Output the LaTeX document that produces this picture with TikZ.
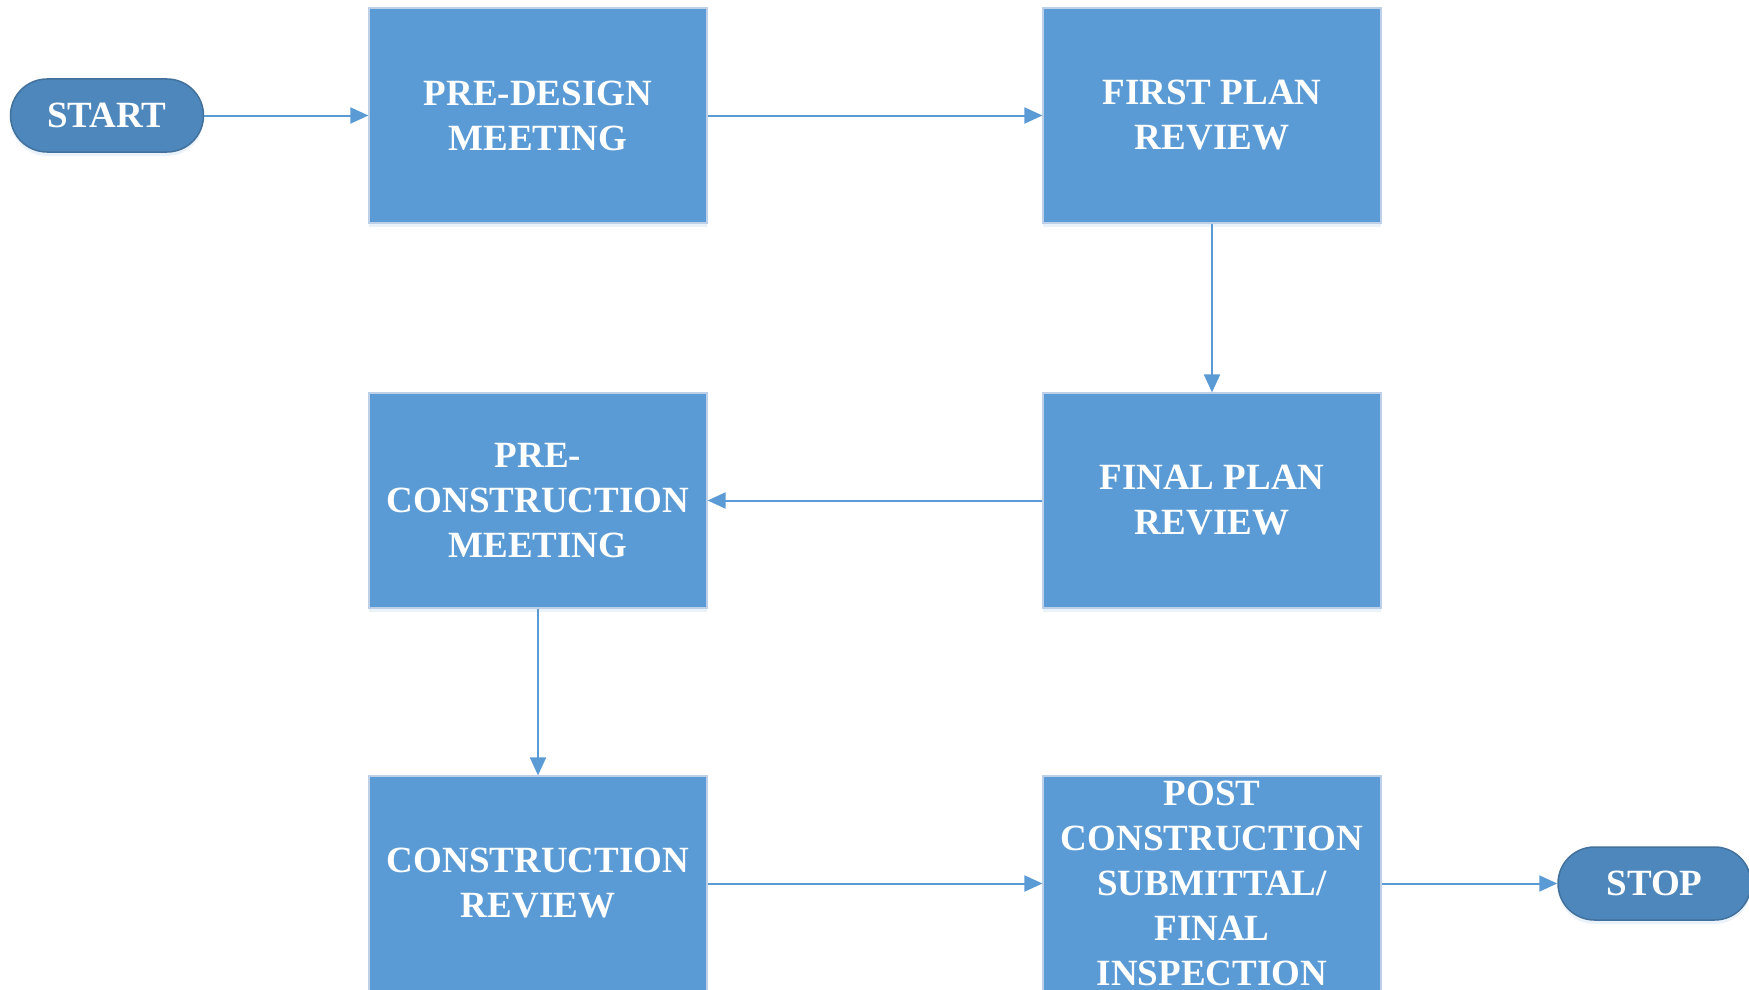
\documentclass[tikz,border=0pt]{standalone}
\usepackage{fontspec}
\setmainfont{Liberation Serif}
\usetikzlibrary{arrows.meta,shadows,shapes.misc}
\definecolor{boxblue}{HTML}{5B9BD5}
\definecolor{boxedge}{HTML}{BDD0E8}
\definecolor{termfill}{HTML}{4E87BB}
\definecolor{termedge}{HTML}{41719C}
\tikzset{
  stepbox/.style={rectangle, fill=boxblue, draw=boxedge, line width=1.2pt,
    minimum width=338pt, minimum height=215pt, inner sep=0pt,
    text=white, align=center, font=\fontsize{37}{45}\selectfont\bfseries,
    drop shadow={shadow xshift=0pt, shadow yshift=-4pt, opacity=0.12, fill=boxblue}},
  term/.style={rounded rectangle, fill=termfill, draw=termedge, line width=1.5pt,
    minimum width=193pt, minimum height=73pt, inner sep=0pt,
    text=white, font=\fontsize{37}{45}\selectfont\bfseries,
    drop shadow={shadow xshift=0pt, shadow yshift=-4pt, opacity=0.12, fill=boxblue}},
  conn/.style={draw=boxblue, line width=2pt, -{Triangle[length=18pt,width=16pt]}}
}
\begin{document}
\begin{tikzpicture}[x=1pt,y=-1pt]
\useasboundingbox (0,0) rectangle (1749,990);
\node[term] (start) at (107,115.5) {START};
\node[stepbox] (pd) at (538,115.5) {PRE-DESIGN\\MEETING};
\node[stepbox] (fpr) at (1212,115.5) {FIRST PLAN\\REVIEW};
\node[stepbox] (fin) at (1212,500.5) {FINAL PLAN\\REVIEW};
\node[stepbox] (pc) at (538,500.5) {PRE-\\CONSTRUCTION\\MEETING};
\node[stepbox] (cr) at (538,883.5) {CONSTRUCTION\\REVIEW};
\node[stepbox] (post) at (1212,883.5) {POST\\CONSTRUCTION\\SUBMITTAL/\\FINAL\\INSPECTION};
\node[term] (stop) at (1654.5,883.5) {STOP};
\draw[conn] (start.east) -- (pd.west);
\draw[conn] (pd.east) -- (fpr.west);
\draw[conn] (fpr.south) -- (fin.north);
\draw[conn] (fin.west) -- (pc.east);
\draw[conn] (pc.south) -- (cr.north);
\draw[conn] (cr.east) -- (post.west);
\draw[conn] (post.east) -- (stop.west);
\end{tikzpicture}
\end{document}
